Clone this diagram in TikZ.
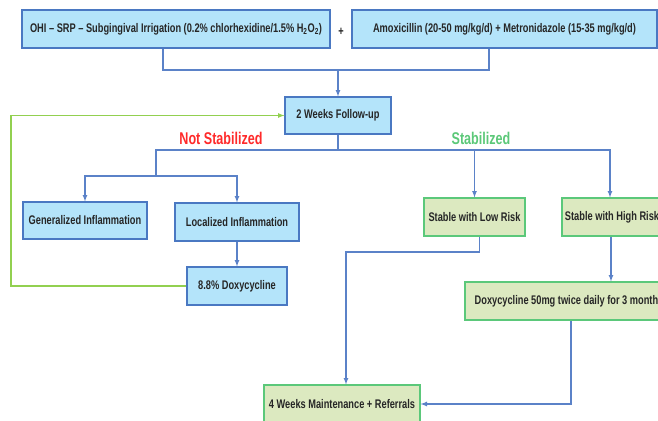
\documentclass[tikz,border=0pt]{standalone}
\usepackage{fontspec}
\setmainfont{Liberation Sans}[FakeStretch=0.74]
\definecolor{boxblue}{HTML}{4A78C2}
\definecolor{fillblue}{HTML}{B4E4FA}
\definecolor{lineblue}{HTML}{5B82C8}
\definecolor{boxgreen}{HTML}{5BC87A}
\definecolor{fillgreen}{HTML}{DCE9C0}
\definecolor{loopgreen}{HTML}{92D050}
\definecolor{notred}{HTML}{FF2A2A}
\definecolor{stabgreen}{HTML}{5BC878}
\definecolor{txt}{HTML}{262626}
\tikzset{
  bluebox/.style={draw=boxblue, fill=fillblue, line width=1.2pt, minimum height=38, inner sep=0pt, text=txt, font={\fontsize{12.5}{14}\selectfont\bfseries}},
  greenbox/.style={bluebox, draw=boxgreen, fill=fillgreen},
  conn/.style={draw=lineblue, line width=1.2pt},
  arr/.style={conn, -latex},
  loopline/.style={draw=loopgreen, line width=1.2pt, -latex}
}
\begin{document}
\begin{tikzpicture}[x=1pt,y=-1pt]
    \useasboundingbox (0,0) rectangle (658,420);
    \clip (0,0) rectangle (658,420);
    % first line of treatment
    \node[bluebox, minimum width=308] (ohi) at (176,29) {OHI -- SRP -- Subgingival Irrigation (0.2\% chlorhexidine/1.5\% H\textsubscript{2}O\textsubscript{2})};
    \node[text=txt, font={\fontsize{12.5}{14}\selectfont\bfseries}] (plus) at (341,32) {+};
    \node[bluebox, minimum width=305] (amox) at (504.5,29) {Amoxicillin (20-50 mg/kg/d) + Metronidazole (15-35 mg/kg/d)};
    \node[bluebox, minimum width=106, minimum height=37] (follow) at (338,115.5) {2 Weeks Follow-up};
    % not stabilized side
    \node[bluebox, minimum width=124, minimum height=37] (gen) at (85,220.5) {Generalized Inflammation};
    \node[bluebox, minimum width=124] (loc) at (237,222) {Localized Inflammation};
    \node[bluebox, minimum width=100] (doxy) at (237,286) {8.8\% Doxycycline};
    % stabilized side
    \node[greenbox, minimum width=101] (low) at (474.5,217) {Stable with Low Risk};
    \node[greenbox, minimum width=100] (high) at (612,217) {Stable with High Risk};
    \node[greenbox, minimum width=208] (doxyfifty) at (569,301) {Doxycycline 50mg twice daily for 3 months};
    \node[greenbox, minimum width=156] (maint) at (342,404) {4 Weeks Maintenance + Referrals};
    \node[text=notred, font={\fontsize{17}{19}\selectfont\bfseries}] (notlab) at (221,138) {Not Stabilized};
    \node[text=stabgreen, font={\fontsize{17}{19}\selectfont\bfseries}] (stablab) at (481,138) {Stabilized};
    \coordinate (join) at (338,70);
    \coordinate (split) at (338,150);
    \coordinate (notsplit) at (156,176);
    \coordinate (lowbend) at (346,252);
    \coordinate (loopcorner) at (11,200);
    \draw[conn] ([xshift=-13]ohi.south) |- (join) -| ([xshift=-15.5]amox.south);
    \draw[arr] (join) -- (follow);
    \draw[conn] (follow) -- (split);
    \draw[conn] (split) -| (notsplit);
    \draw[arr] (notsplit) -| (gen);
    \draw[arr] (notsplit) -| (loc);
    \draw[arr] (split) -| (low);
    \draw[arr] (split) -| ([xshift=-2]high.north);
    \draw[arr] (loc) -- (doxy);
    \draw[loopline] (doxy.west) -- (doxy.west -| loopcorner) |- (follow.west);
    \draw[arr] ([xshift=-1]high.south) -- ([xshift=-1]high.south |- doxyfifty.north);
    \draw[arr] ([xshift=5]low.south) |- (lowbend) -- (lowbend |- maint.north);
    \draw[arr] ([xshift=2]doxyfifty.south) |- (maint.east);
\end{tikzpicture}
\end{document}
